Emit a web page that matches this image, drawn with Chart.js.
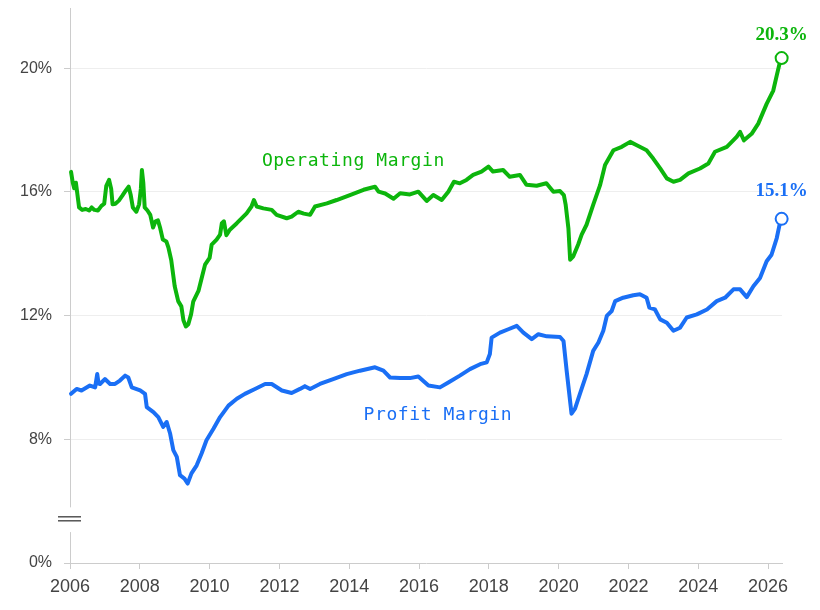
<!DOCTYPE html>
<html>
<head>
<meta charset="utf-8">
<script src="https://cdn.jsdelivr.net/npm/chart.js@4/dist/chart.umd.min.js"></script>
<style>
  html, body { margin: 0; padding: 0; background: #fff; }
  #wrap { width: 820px; height: 610px; }
</style>
</head>
<body>
<div id="wrap"><canvas id="chart"></canvas></div>
<script>
// Operating margin (%)
const opYears = [
  2006.03, 2006.08, 2006.12, 2006.17, 2006.26, 2006.35, 2006.45, 2006.55, 2006.62, 2006.7,
  2006.8, 2006.9, 2006.98, 2007.04, 2007.12, 2007.18, 2007.22, 2007.3, 2007.4, 2007.5,
  2007.6, 2007.68, 2007.74, 2007.8, 2007.9, 2007.98, 2008.03, 2008.06, 2008.1, 2008.14,
  2008.22, 2008.3, 2008.38, 2008.45, 2008.52, 2008.58, 2008.66, 2008.76, 2008.82, 2008.9,
  2009.0, 2009.1, 2009.19, 2009.25, 2009.32, 2009.39, 2009.47, 2009.53, 2009.68, 2009.77,
  2009.87, 2010.0, 2010.06, 2010.2, 2010.3, 2010.35, 2010.41, 2010.48, 2010.58, 2010.78,
  2011.06, 2011.2, 2011.27, 2011.35, 2011.54, 2011.78, 2011.92, 2012.21, 2012.35, 2012.54,
  2012.7, 2012.88, 2013.02, 2013.36, 2013.64, 2014.02, 2014.41, 2014.74, 2014.84, 2015.03,
  2015.27, 2015.46, 2015.74, 2015.98, 2016.22, 2016.41, 2016.65, 2016.84, 2017.0, 2017.17,
  2017.36, 2017.55, 2017.79, 2017.99, 2018.12, 2018.41, 2018.6, 2018.89, 2019.08, 2019.37,
  2019.65, 2019.85, 2020.04, 2020.15, 2020.2, 2020.28, 2020.33, 2020.42, 2020.56, 2020.66,
  2020.8, 2020.99, 2021.19, 2021.33, 2021.57, 2021.81, 2022.05, 2022.24, 2022.52, 2022.71,
  2022.91, 2023.1, 2023.29, 2023.48, 2023.72, 2024.05, 2024.29, 2024.48, 2024.82, 2025.1,
  2025.2, 2025.31, 2025.53, 2025.72, 2025.96, 2026.15, 2026.25, 2026.34, 2026.39
];
const opValues = [
  16.65, 16.3, 16.12, 16.3, 15.5, 15.42, 15.45, 15.4, 15.5, 15.42,
  15.4, 15.55, 15.62, 16.2, 16.39, 16.1, 15.6, 15.62, 15.72, 15.88,
  16.05, 16.17, 15.9, 15.5, 15.36, 15.6, 16.1, 16.71, 16.3, 15.5,
  15.4, 15.26, 14.85, 15.05, 15.08, 14.85, 14.46, 14.4, 14.2, 13.8,
  12.95, 12.47, 12.3, 11.85, 11.65, 11.72, 12.05, 12.45, 12.8, 13.2,
  13.65, 13.87, 14.3, 14.46, 14.62, 14.99, 15.05, 14.6, 14.78, 14.99,
  15.31, 15.53, 15.74, 15.53, 15.47, 15.42, 15.26, 15.15, 15.2, 15.36,
  15.3, 15.26, 15.53, 15.63, 15.74, 15.9, 16.07, 16.17, 16.01, 15.95,
  15.78, 15.96, 15.92, 16.01, 15.71, 15.9, 15.74, 16.01, 16.33, 16.28,
  16.39, 16.55, 16.66, 16.82, 16.66, 16.71, 16.49, 16.55, 16.23, 16.2,
  16.28, 16.01, 16.03, 15.9, 15.6, 14.83, 13.81, 13.92, 14.3, 14.62,
  14.94, 15.58, 16.23, 16.87, 17.35, 17.46, 17.62, 17.51, 17.35, 17.08,
  16.76, 16.44, 16.33, 16.39, 16.6, 16.76, 16.92, 17.3, 17.46, 17.78,
  17.94, 17.67, 17.88, 18.21, 18.85, 19.28, 19.77, 20.2, 20.33
];

// Profit margin (%)
const pmYears = [
  2006.03, 2006.19, 2006.33, 2006.57, 2006.72, 2006.78, 2006.82, 2006.86, 2007.0, 2007.15,
  2007.29, 2007.43, 2007.58, 2007.67, 2007.77, 2008.01, 2008.15, 2008.2, 2008.39, 2008.53,
  2008.67, 2008.77, 2008.87, 2008.96, 2009.06, 2009.15, 2009.28, 2009.37, 2009.48, 2009.63,
  2009.77, 2009.91, 2010.11, 2010.3, 2010.54, 2010.78, 2011.01, 2011.3, 2011.59, 2011.78,
  2012.07, 2012.35, 2012.59, 2012.73, 2012.88, 2013.16, 2013.54, 2013.93, 2014.31, 2014.74,
  2014.98, 2015.17, 2015.46, 2015.74, 2015.98, 2016.27, 2016.6, 2016.84, 2017.17, 2017.46,
  2017.75, 2017.94, 2018.03, 2018.08, 2018.32, 2018.56, 2018.8, 2018.99, 2019.23, 2019.42,
  2019.66, 2020.04, 2020.14, 2020.23, 2020.37, 2020.47, 2020.61, 2020.8, 2020.99, 2021.14,
  2021.28, 2021.38, 2021.52, 2021.62, 2021.85, 2022.14, 2022.33, 2022.52, 2022.6, 2022.76,
  2022.91, 2023.1, 2023.29, 2023.48, 2023.67, 2023.96, 2024.25, 2024.53, 2024.77, 2025.01,
  2025.2, 2025.39, 2025.58, 2025.77, 2025.96, 2026.1, 2026.25, 2026.34, 2026.39
];
const pmValues = [
  9.47, 9.63, 9.58, 9.74, 9.68, 10.11, 9.8, 9.79, 9.95, 9.79,
  9.79, 9.9, 10.06, 10.0, 9.68, 9.58, 9.47, 9.04, 8.88, 8.72,
  8.4, 8.56, 8.18, 7.65, 7.43, 6.84, 6.73, 6.57, 6.9, 7.16,
  7.54, 7.97, 8.34, 8.72, 9.09, 9.31, 9.47, 9.63, 9.79, 9.79,
  9.58, 9.5, 9.63, 9.72, 9.63, 9.79, 9.95, 10.11, 10.22, 10.33,
  10.22, 10.0, 9.98, 9.98, 10.03, 9.74, 9.68, 9.84, 10.06, 10.27,
  10.43, 10.49, 10.76, 11.29, 11.45, 11.56, 11.67, 11.45, 11.24, 11.4,
  11.33, 11.31, 11.18, 10.22, 8.83, 8.99, 9.47, 10.11, 10.86, 11.13,
  11.51, 11.99, 12.15, 12.47, 12.58, 12.66, 12.69, 12.58, 12.26, 12.2,
  11.88, 11.77, 11.51, 11.61, 11.94, 12.04, 12.2, 12.47, 12.58, 12.85,
  12.85, 12.6, 12.95, 13.22, 13.76, 13.97, 14.51, 14.99, 15.13
];

const xTicks = [2006, 2008, 2010, 2012, 2014, 2016, 2018, 2020, 2022, 2024, 2026];
// the axis is broken below 8%: the value 4 is drawn where "0%" sits
const yTicks = [4, 8, 12, 16, 20];
const yTickLabels = ['0%', '8%', '12%', '16%', '20%'];

const GREEN = '#0cb50c';
const BLUE = '#1a6ff5';

const seriesNames = [
  { text: 'Operating Margin', x: 2014.12, y: 16.99, color: GREEN },
  { text: 'Profit Margin', x: 2016.54, y: 8.79, color: BLUE },
];
const endLabelOffset = [-23, -28];

function toPoints(xs, ys) {
  return xs.map((x, i) => ({ x: x, y: ys[i] }));
}

function lastPointRadius(ctx) {
  return ctx.dataIndex === ctx.dataset.data.length - 1 ? 6 : 0;
}

const annotations = {
  id: 'annotations',
  afterDraw(chart) {
    const { ctx, scales: { x, y } } = chart;
    ctx.save();
    ctx.textAlign = 'center';
    ctx.textBaseline = 'middle';

    ctx.font = '18px "DejaVu Sans Mono"';
    ctx.letterSpacing = '0.6px';
    seriesNames.forEach(l => {
      ctx.fillStyle = l.color;
      ctx.fillText(l.text, x.getPixelForValue(l.x), y.getPixelForValue(l.y));
    });

    ctx.letterSpacing = '0px';
    ctx.font = 'bold 19px "Liberation Serif"';
    chart.data.datasets.forEach((ds, i) => {
      const pts = chart.getDatasetMeta(i).data;
      const p = pts[pts.length - 1];
      const v = ds.data[ds.data.length - 1].y;
      ctx.fillStyle = ds.borderColor;
      ctx.fillText(v.toFixed(1) + '%', p.x, p.y + endLabelOffset[i]);
    });

    // axis break marker
    const gapTop = y.getPixelForValue(5.8);
    const gapBottom = y.getPixelForValue(5.0);
    ctx.fillStyle = '#fff';
    ctx.fillRect(x.left - 3, gapTop, 6, gapBottom - gapTop);
    const mid = y.getPixelForValue(5.43);
    ctx.strokeStyle = '#555';
    ctx.lineWidth = 1.5;
    [-2, 2].forEach(d => {
      ctx.beginPath();
      ctx.moveTo(x.left - 12, mid + d);
      ctx.lineTo(x.left + 11, mid + d);
      ctx.stroke();
    });
    ctx.restore();
  }
};

new Chart(document.getElementById('chart'), {
  type: 'line',
  data: {
    datasets: [
      {
        label: 'Operating Margin',
        data: toPoints(opYears, opValues),
        borderColor: GREEN,
        borderWidth: 4,
        pointRadius: lastPointRadius,
        pointHoverRadius: lastPointRadius,
        pointBackgroundColor: '#fff',
        pointBorderColor: GREEN,
        pointBorderWidth: 2,
        borderJoinStyle: 'round',
        borderCapStyle: 'round',
        tension: 0,
        clip: false,
      },
      {
        label: 'Profit Margin',
        data: toPoints(pmYears, pmValues),
        borderColor: BLUE,
        borderWidth: 4,
        pointRadius: lastPointRadius,
        pointHoverRadius: lastPointRadius,
        pointBackgroundColor: '#fff',
        pointBorderColor: BLUE,
        pointBorderWidth: 2,
        borderJoinStyle: 'round',
        borderCapStyle: 'round',
        tension: 0,
        clip: false,
      },
    ]
  },
  options: {
    responsive: true,
    maintainAspectRatio: false,
    animation: false,
    layout: { padding: { top: 4, right: 38, left: 0, bottom: 0 } },
    scales: {
      x: {
        type: 'linear',
        min: 2006,
        max: 2026.4,
        afterBuildTicks: s => { s.ticks = xTicks.map(v => ({ value: v })); },
        afterFit: s => { s.height = 47; s.paddingLeft = 0; s.paddingRight = 0; },
        ticks: {
          autoSkip: false,
          maxRotation: 0,
          padding: 7,
          color: '#444',
          font: { family: '"Liberation Sans"', size: 18 },
          callback: v => String(v),
        },
        grid: { drawOnChartArea: false, tickLength: 6, color: '#ccc' },
        border: { color: '#ccc' },
      },
      y: {
        min: 4,
        max: 21.95,
        afterBuildTicks: s => { s.ticks = yTicks.map(v => ({ value: v })); },
        afterFit: s => { s.width = 70; s.paddingTop = 0; s.paddingBottom = 0; },
        ticks: {
          padding: 12,
          color: '#444',
          font: { family: '"Liberation Sans"', size: 16 },
          callback: v => yTickLabels[yTicks.indexOf(v)],
        },
        grid: {
          color: ctx => (ctx.tick && ctx.tick.value === 4) ? 'rgba(0,0,0,0)' : '#eeeeee',
          tickColor: '#ccc',
          tickLength: 6,
        },
        border: { color: '#ccc' },
      },
    },
    plugins: {
      legend: { display: false },
      tooltip: { enabled: false },
    }
  },
  plugins: [annotations]
});
</script>
</body>
</html>
